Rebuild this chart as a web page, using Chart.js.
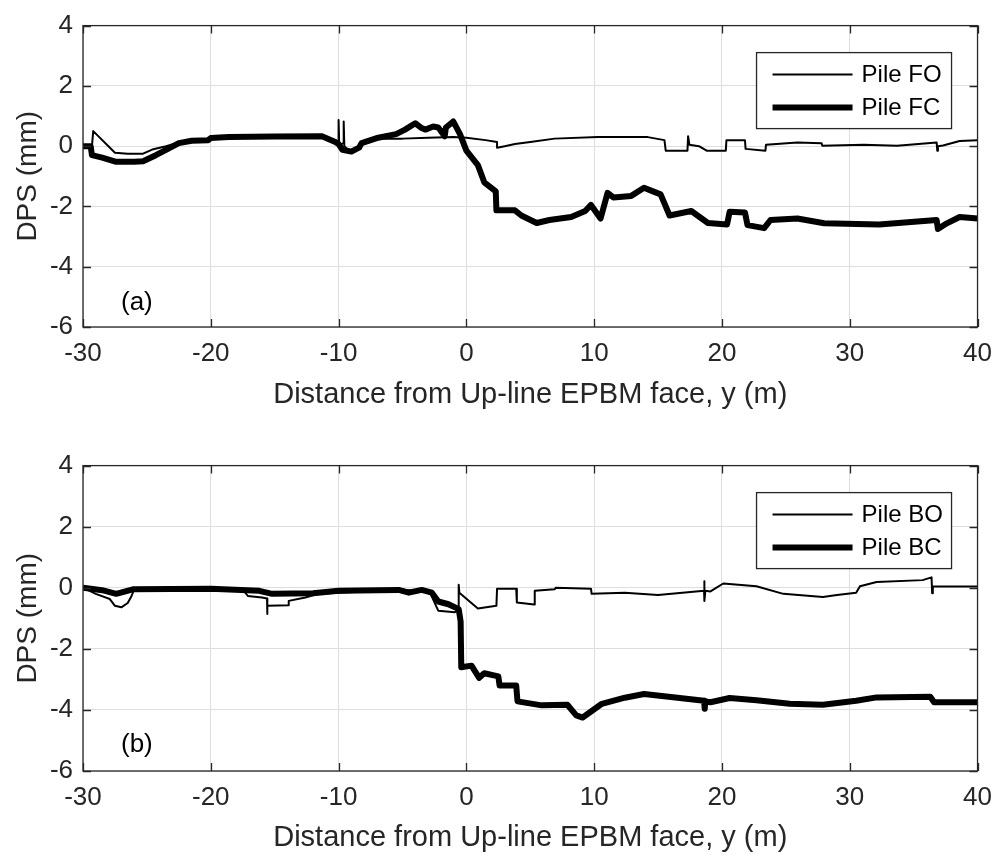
<!DOCTYPE html>
<html>
<head>
<meta charset="utf-8">
<title>DPS vs distance from EPBM face</title>
<script src="https://cdn.jsdelivr.net/npm/chart.js@4.4.1/dist/chart.umd.min.js"></script>
<style>
  html, body { margin: 0; padding: 0; background: #ffffff; }
  #wrap { position: relative; width: 1003px; height: 859px; }
  canvas { position: absolute; left: 0; }
  #chartA { top: 0; }
  #chartB { top: 440px; }
</style>
</head>
<body>
<div id="wrap">
  <canvas id="chartA" width="1003" height="420"></canvas>
  <canvas id="chartB" width="1003" height="419"></canvas>
</div>
<script>
// ===== DATA =====
const xTicks = [-30, -20, -10, 0, 10, 20, 30, 40];
const yTicks = [-6, -4, -2, 0, 2, 4];

// (a) Pile FO - thin line
const pileFO_x = [-30, -29.3, -29.2, -27.5, -26.5, -25.3, -24.5, -23.5, -22.5, -21.5, -20.2, -20, -18.5, -15, -12, -11.2, -10.4, -10.0, -10.0, -9.95, -9.6, -9.6, -9.55, -9.2, -8.8, -8.2, -7.5, -6.5, -5, -3, -1, 0, 1.5, 2.4, 2.4, 3.0, 3.8, 5.0, 6.9, 10.3, 14.2, 15.5, 15.6, 17.3, 17.35, 17.45, 18.2, 18.8, 20.3, 20.35, 21.8, 21.85, 23.4, 23.45, 25.9, 27.8, 27.85, 31.1, 33.7, 36.8, 36.85, 36.9, 37.3, 38.6, 40];
const pileFO_y = [0.0, 0.0, 0.5, -0.22, -0.25, -0.25, -0.1, 0.0, 0.12, 0.2, 0.22, 0.28, 0.3, 0.32, 0.33, 0.32, 0.2, 0.1, 0.87, 0.05, 0.1, 0.82, 0.0, -0.15, -0.15, 0.05, 0.2, 0.25, 0.25, 0.28, 0.3, 0.28, 0.2, 0.14, -0.05, 0.0, 0.07, 0.14, 0.25, 0.3, 0.3, 0.2, -0.15, -0.15, 0.33, 0.05, 0.0, -0.15, -0.15, 0.2, 0.2, -0.09, -0.15, 0.05, 0.12, 0.1, 0.01, 0.05, 0.01, 0.12, -0.15, 0.0, 0.02, 0.17, 0.2];

// (a) Pile FC - thick line
const pileFC_x = [-30, -29.4, -29.3, -28.5, -27.4, -26, -25.3, -24.3, -23.5, -22.5, -21.5, -20.2, -20, -18.6, -15, -11.3, -10.3, -10, -9.7, -9, -8.4, -8.2, -6.9, -5.5, -4.8, -4.0, -3.5, -3.2, -2.6, -2.2, -1.7, -1.6, -1.03, -0.5, 0, 0.9, 1.4, 2.3, 2.35, 3.8, 4.3, 5.5, 6.5, 8.2, 9.3, 9.75, 10.5, 11.05, 11.5, 12.9, 13.9, 14.6, 15.2, 15.9, 17.6, 18.9, 20.4, 20.6, 21.8, 22.0, 23.3, 23.8, 25.9, 28, 32.3, 36.8, 36.9, 37.6, 38.6, 40];
const pileFC_y = [0.0, 0.0, -0.3, -0.38, -0.52, -0.52, -0.5, -0.3, -0.12, 0.1, 0.18, 0.2, 0.27, 0.3, 0.32, 0.33, 0.15, 0.07, -0.12, -0.18, -0.05, 0.1, 0.28, 0.4, 0.55, 0.76, 0.6, 0.55, 0.65, 0.62, 0.33, 0.62, 0.82, 0.4, -0.15, -0.63, -1.2, -1.5, -2.13, -2.13, -2.3, -2.55, -2.45, -2.35, -2.15, -1.95, -2.4, -1.55, -1.7, -1.65, -1.38, -1.5, -1.6, -2.3, -2.15, -2.55, -2.6, -2.18, -2.2, -2.62, -2.72, -2.45, -2.4, -2.56, -2.6, -2.45, -2.75, -2.56, -2.35, -2.4];

// (b) Pile BO - thin line
const pileBO_x = [-30, -29, -27.9, -27.5, -27, -26.5, -26.2, -26, -20, -17.5, -17.1, -16, -15.6, -15.6, -15.55, -13.9, -13.9, -12.6, -11.6, -8, -5, -3.5, -2.8, -2.2, -0.9, -0.65, -0.6, -0.55, 0.9, 2.35, 2.4, 3.9, 3.95, 5.3, 5.35, 6.9, 7.0, 9.75, 9.8, 12.4, 15, 18.6, 18.6, 18.65, 18.7, 19.1, 20.1, 22.7, 24.8, 27.9, 29, 30.5, 30.8, 32.1, 35.7, 36.4, 36.45, 36.5, 40];
const pileBO_y = [0, -0.2, -0.37, -0.59, -0.64, -0.5, -0.27, -0.05, -0.03, -0.05, -0.27, -0.32, -0.35, -0.86, -0.59, -0.57, -0.43, -0.32, -0.2, -0.12, -0.07, -0.1, -0.2, -0.75, -0.8, -0.75, 0.1, -0.16, -0.68, -0.59, -0.03, -0.03, -0.48, -0.55, -0.1, -0.05, 0, -0.03, -0.2, -0.16, -0.24, -0.1, 0.21, -0.43, -0.1, -0.12, 0.14, 0.05, -0.2, -0.3, -0.24, -0.16, 0.05, 0.19, 0.25, 0.34, -0.18, 0.05, 0.04];

// (b) Pile BC - thick line
const pileBC_x = [-30, -28.5, -27.4, -26.1, -20, -16.2, -15.2, -12, -10, -5.3, -4.5, -3.5, -2.7, -2.2, -1.4, -0.6, -0.45, -0.4, 0.4, 1.0, 1.4, 2.5, 2.6, 3.9, 4.0, 5.9, 7.9, 8.6, 9.1, 10.6, 12.4, 13.9, 16, 18.6, 18.65, 18.7, 19.1, 20.6, 22.7, 25.3, 27.9, 30.5, 32.1, 36.3, 36.6, 40];
const pileBC_y = [0, -0.08, -0.2, -0.05, -0.03, -0.1, -0.2, -0.18, -0.1, -0.07, -0.16, -0.07, -0.16, -0.45, -0.54, -0.7, -1.1, -2.6, -2.55, -2.95, -2.8, -2.9, -3.2, -3.2, -3.72, -3.85, -3.83, -4.18, -4.25, -3.8, -3.6, -3.48, -3.58, -3.7, -3.96, -3.72, -3.75, -3.61, -3.68, -3.8, -3.83, -3.7, -3.59, -3.57, -3.75, -3.75];

// ===== ESTILO =====
const FONT = "'Liberation Sans', Arial, sans-serif";
const INK = '#262626';
Chart.defaults.font.family = FONT;
Chart.defaults.color = INK;

function toPoints(xs, ys) {
    return xs.map((x, i) => ({ x: x, y: ys[i] }));
}

// Marco estilo MATLAB: caja, marcas hacia dentro, leyenda y etiqueta del panel
const matlabFrame = {
    id: 'matlabFrame',
    afterDraw(chart, args, opts) {
        const { ctx, chartArea: { left, right, top, bottom }, scales: { x, y } } = chart;
        ctx.save();

        // marcas hacia dentro en los cuatro lados
        const tl = 8;
        ctx.strokeStyle = INK;
        ctx.lineWidth = 1.3;
        ctx.beginPath();
        xTicks.forEach(v => {
            const px = Math.round(x.getPixelForValue(v)) + 0.5;
            ctx.moveTo(px, bottom); ctx.lineTo(px, bottom - tl);
            ctx.moveTo(px, top); ctx.lineTo(px, top + tl);
        });
        yTicks.forEach(v => {
            const py = Math.round(y.getPixelForValue(v)) + 0.5;
            ctx.moveTo(left, py); ctx.lineTo(left + tl, py);
            ctx.moveTo(right, py); ctx.lineTo(right - tl, py);
        });
        ctx.stroke();
        ctx.strokeRect(left, top, right - left, bottom - top);

        // leyenda
        const bw = 195, bh = 76;
        const bx = right - 26 - bw, by = top + 27;
        ctx.fillStyle = '#ffffff';
        ctx.fillRect(bx, by, bw, bh);
        ctx.lineWidth = 1.3;
        ctx.strokeRect(bx, by, bw, bh);
        const rows = [by + 22, by + 55];
        chart.data.datasets.forEach((ds, i) => {
            ctx.beginPath();
            ctx.strokeStyle = '#000000';
            ctx.lineWidth = ds.borderWidth;
            ctx.moveTo(bx + 16, rows[i]);
            ctx.lineTo(bx + 96, rows[i]);
            ctx.stroke();
            ctx.fillStyle = '#000000';
            ctx.font = `24px ${FONT}`;
            ctx.textAlign = 'left';
            ctx.textBaseline = 'middle';
            ctx.fillText(ds.label, bx + 105, rows[i] + 1);
        });

        // etiqueta del panel
        ctx.fillStyle = '#000000';
        ctx.font = `26px ${FONT}`;
        ctx.textAlign = 'left';
        ctx.textBaseline = 'middle';
        ctx.fillText(opts.label, left + 38, bottom - opts.labelOffset);

        ctx.restore();
    }
};

function createPanel(canvasId, seriesA, seriesB, names, panel) {
    const ctx = document.getElementById(canvasId);
    return new Chart(ctx, {
        type: 'line',
        data: {
            datasets: [{
                label: names[0],
                data: toPoints(seriesA[0], seriesA[1]),
                borderColor: '#000000',
                borderWidth: 2,
                pointRadius: 0,
                tension: 0,
                borderJoinStyle: 'round'
            }, {
                label: names[1],
                data: toPoints(seriesB[0], seriesB[1]),
                borderColor: '#000000',
                borderWidth: 6,
                pointRadius: 0,
                tension: 0,
                borderJoinStyle: 'round'
            }]
        },
        options: {
            responsive: false,
            animation: false,
            events: [],
            layout: {
                padding: { top: panel.padTop, right: 21, bottom: panel.padBottom, left: 0 }
            },
            plugins: {
                legend: { display: false },
                tooltip: { enabled: false },
                matlabFrame: { label: panel.label, labelOffset: panel.labelOffset }
            },
            scales: {
                x: {
                    type: 'linear',
                    min: -30,
                    max: 40,
                    afterBuildTicks: s => { s.ticks = xTicks.map(v => ({ value: v })); },
                    afterFit: s => { s.height = panel.xAxisHeight; },
                    grid: { color: '#dedede', lineWidth: 1, drawTicks: false },
                    border: { display: false },
                    ticks: { font: { size: 26 }, color: INK, padding: 11, maxRotation: 0 },
                    title: {
                        display: true,
                        text: 'Distance from Up-line EPBM face, y (m)',
                        font: { size: 29 },
                        color: INK,
                        padding: { top: 0, bottom: 0 }
                    }
                },
                y: {
                    type: 'linear',
                    min: -6,
                    max: 4,
                    afterBuildTicks: s => { s.ticks = yTicks.map(v => ({ value: v })); },
                    afterFit: s => { s.width = 83; },
                    grid: { color: '#dedede', lineWidth: 1, drawTicks: false },
                    border: { display: false },
                    ticks: { font: { size: 26 }, color: INK, padding: 10 },
                    title: {
                        display: true,
                        text: 'DPS (mm)',
                        font: { size: 28 },
                        color: INK,
                        padding: { top: 11, bottom: 0 }
                    }
                }
            }
        },
        plugins: [matlabFrame]
    });
}

createPanel('chartA', [pileFO_x, pileFO_y], [pileFC_x, pileFC_y], ['Pile FO', 'Pile FC'],
    { label: '(a)', labelOffset: 24, padTop: 16, padBottom: 8, xAxisHeight: 85 });
createPanel('chartB', [pileBO_x, pileBO_y], [pileBC_x, pileBC_y], ['Pile BO', 'Pile BC'],
    { label: '(b)', labelOffset: 26, padTop: 20, padBottom: 4, xAxisHeight: 84 });
</script>
</body>
</html>
